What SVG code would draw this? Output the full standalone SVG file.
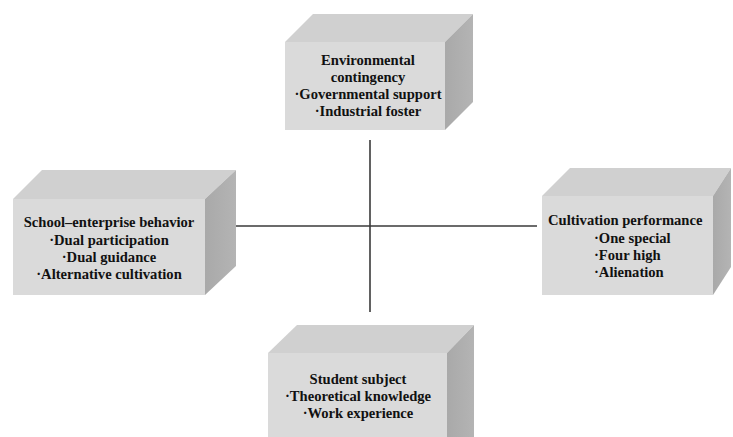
<svg xmlns="http://www.w3.org/2000/svg" width="733" height="437" viewBox="0 0 733 437">
<defs>
<linearGradient id="side" x1="0" y1="0" x2="1" y2="0">
<stop offset="0" stop-color="#a9a9a9"/>
<stop offset="1" stop-color="#b4b4b4"/>
</linearGradient>
</defs>
<style>
.front{fill:#dadada}
.top{fill:#d0d0d0}
.side{fill:url(#side)}
.t{font-family:"Liberation Serif","Times New Roman",serif;font-weight:bold;font-size:14.6px;fill:#111111}
.c{text-anchor:middle}
.line{stroke:#3a3a3a;stroke-width:1.6;fill:none}
</style>
<rect width="733" height="437" fill="#ffffff"/>
<g id="connectors">
<line class="line" x1="370" y1="140" x2="370" y2="312"/>
<line class="line" x1="205" y1="226" x2="537" y2="226"/>
</g>
<g id="top-node">
<polygon class="top" points="285,42 313,14 473,14 445,42"/>
<polygon class="side" points="445,42 473,14 473,102 445,130"/>
<rect class="front" x="285" y="42" width="160" height="88"/>
<text class="t c" x="368" y="65">Environmental</text>
<text class="t c" x="368" y="82">contingency</text>
<text class="t c" x="368" y="99">·Governmental support</text>
<text class="t c" x="368" y="116">·Industrial foster</text>
</g>
<g id="left-node">
<polygon class="top" points="13,199 42,170 236,170 205,199"/>
<polygon class="side" points="205,199 236,170 236,266 205,295"/>
<rect class="front" x="13" y="199" width="192" height="96"/>
<text class="t c" x="109" y="227">School–enterprise behavior</text>
<text class="t c" x="109" y="245">·Dual participation</text>
<text class="t c" x="109" y="262">·Dual guidance</text>
<text class="t c" x="109" y="279">·Alternative cultivation</text>
</g>
<g id="right-node">
<polygon class="top" points="542,196 570,168 731,168 713,196"/>
<polygon class="side" points="713,196 731,168 731,267 713,295"/>
<rect class="front" x="542" y="196" width="171" height="99"/>
<text class="t" x="548" y="225">Cultivation performance</text>
<text class="t" x="594" y="243">·One special</text>
<text class="t" x="594" y="260">·Four high</text>
<text class="t" x="594" y="277">·Alienation</text>
</g>
<g id="bottom-node">
<polygon class="top" points="268,353 297,325 474,325 447,353"/>
<polygon class="side" points="447,353 474,325 474,437 447,437"/>
<rect class="front" x="268" y="353" width="179" height="84"/>
<text class="t c" x="358" y="384">Student subject</text>
<text class="t c" x="358" y="401">·Theoretical knowledge</text>
<text class="t c" x="358" y="418">·Work experience</text>
</g>
</svg>
